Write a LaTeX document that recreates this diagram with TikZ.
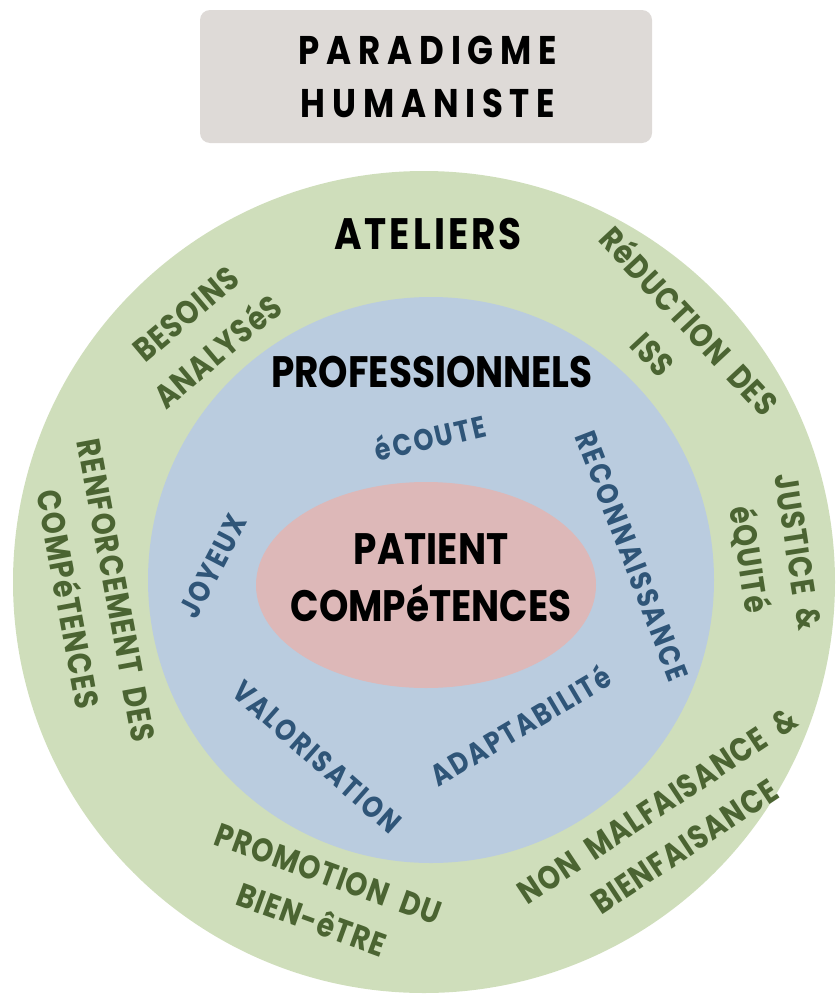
\documentclass[tikz,border=0pt]{standalone}
\usepackage{fontspec}
\newfontfamily\hand{Poppins}[FakeStretch=0.85]
\newfontfamily\handg{Poppins}[FakeStretch=0.85, LetterSpace=3.5, WordSpace=1.9]
\definecolor{boxfill}{HTML}{DEDAD7}
\definecolor{greenfill}{HTML}{CFDEBB}
\definecolor{bluefill}{HTML}{BACCDF}
\definecolor{pinkfill}{HTML}{DDB8B8}
\definecolor{greentxt}{HTML}{4B6432}
\definecolor{bluetxt}{HTML}{2F5578}
\newcommand\fsz[2]{\fontsize{#1}{#2}\selectfont}
\tikzset{
  blacklbl/.style={inner sep=0pt, align=center, text=black, font=\hand\bfseries\fsz{44}{57}},
  bluelbl/.style={inner sep=0pt, align=center, text=bluetxt, font=\hand\bfseries\fsz{30}{40}\addfontfeatures{LetterSpace=7}},
  greenlbl/.style={inner sep=0pt, align=center, text=greentxt, font=\handg\bfseries\fsz{33}{49}},
  titlelbl/.style={inner sep=0pt, align=center, text=black, font=\hand\bfseries\fsz{40}{53}\addfontfeatures{LetterSpace=17}}
}
\begin{document}
\begin{tikzpicture}[x=1pt,y=-1pt]
\useasboundingbox (0,0) rectangle (836,996);
% title box
\node[draw=none, fill=boxfill, rounded corners=10pt, minimum width=452pt, minimum height=133pt, inner sep=0pt] (titlebox) at (426,76.5) {};
\node[titlelbl] (title) at (428,77) {PARADIGME\\HUMANISTE};
% rings
\fill[greenfill] (424,582) circle [radius=411pt];
\fill[bluefill] (431,580) circle [radius=283pt];
\fill[pinkfill] (426,585) ellipse [x radius=170pt, y radius=103pt];
% black labels
\node[blacklbl, font=\hand\bfseries\fsz{44}{57}\addfontfeatures{LetterSpace=7}] (ateliers) at (428,234) {ATELIERS};
\node[blacklbl] (pros) at (432,372) {PROFESSIONNELS};
\node[blacklbl] (patient) at (431,578) {PATIENT\\COMPéTENCES};
% blue labels
\node[bluelbl, rotate=13] (ecoute) at (430,437) {éCOUTE};
\node[bluelbl, rotate=-69] (reconn) at (632,556) {RECONNAISSANCE};
\node[bluelbl, rotate=62.5] (joyeux) at (213,566) {JOYEUX};
\node[bluelbl, rotate=-41.4] (valor) at (317,757) {VALORISATION};
\node[bluelbl, rotate=30.6] (adapt) at (520,725) {ADAPTABILITé};
% green labels
\node[greenlbl, rotate=40] (besoins) at (202,333) {BESOINS\\ANALYSéS};
\node[greenlbl, rotate=-79.5] (renfo) at (92,595) {RENFORCEMENT DES\\COMPéTENCES};
\node[greenlbl, rotate=-47] (reduc) at (672,337) {RéDUCTION DES\\ISS};
\node[greenlbl, rotate=-81] (justice) at (772,556) {JUSTICE \&\\éQUITé};
\node[greenlbl, rotate=-20] (promo) at (320,897) {PROMOTION DU\\BIEN-êTRE};
\node[greenlbl, rotate=33.5] (nonmal) at (671,826) {NON MALFAISANCE \&\\BIENFAISANCE};
\end{tikzpicture}
\end{document}
